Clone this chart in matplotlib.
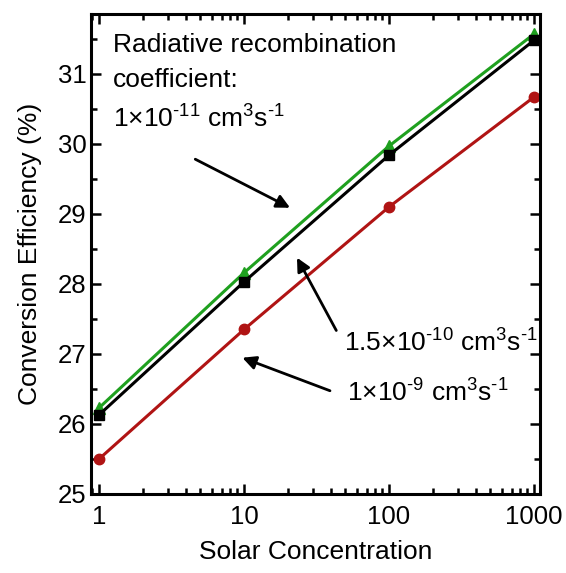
import numpy as np
import matplotlib
matplotlib.use("Agg")
import matplotlib.pyplot as plt
from matplotlib.ticker import LogLocator, MultipleLocator, NullFormatter

plt.rcParams['font.family'] = ['Liberation Sans', 'DejaVu Sans']
plt.rcParams['mathtext.fontset'] = 'custom'
plt.rcParams['mathtext.rm'] = 'Liberation Sans'
plt.rcParams['mathtext.it'] = 'Liberation Sans'

# data
concentration = [1, 10, 100, 1000]
eff_1e11 = [26.23, 28.16, 29.97, 31.57]
eff_15e10 = [26.13, 28.03, 29.84, 31.48]
eff_1e9 = [25.50, 27.35, 29.10, 30.67]

x_ticks = [1, 10, 100, 1000]
x_tick_labels = ['1', '10', '100', '1000']
y_ticks = [25, 26, 27, 28, 29, 30, 31]

green = '#1fa01f'
red = '#b01414'

fig = plt.figure(figsize=(5.66, 5.73), dpi=100)
ax = fig.add_axes([0.161, 0.138, 0.793, 0.838])

ax.plot(concentration, eff_1e11, color=green, lw=2.2, marker='^', ms=9)
ax.plot(concentration, eff_15e10, color='black', lw=2.2, marker='s', ms=6.5)
ax.plot(concentration, eff_1e9, color=red, lw=2.2, marker='o', ms=7.5)

ax.set_xscale('log')
ax.set_xlim(0.881, 1100)
ax.set_ylim(25, 31.86)
ax.set_xticks(x_ticks)
ax.set_xticklabels(x_tick_labels)
ax.xaxis.set_minor_locator(LogLocator(base=10, subs=np.arange(2, 10)))
ax.xaxis.set_minor_formatter(NullFormatter())
ax.set_yticks(y_ticks)
ax.yaxis.set_minor_locator(MultipleLocator(0.5))

ax.tick_params(which='both', direction='in', top=True, right=True, width=1.8,
               labelsize=18.5)
ax.tick_params(which='major', length=7)
ax.tick_params(which='minor', length=4)
ax.tick_params(axis='x', pad=8)
for sp in ax.spines.values():
    sp.set_linewidth(2.2)

ax.set_xlabel('Solar Concentration', fontsize=19, labelpad=8)
ax.set_ylabel('Conversion Efficiency (%)', fontsize=19, labelpad=11)

# annotations
ax.text(1.25, 31.41, 'Radiative recombination', fontsize=19, va='center')
ax.text(1.25, 30.91, 'coefficient:', fontsize=19, va='center')
ax.text(1.25, 30.36, r'1$\times$10$^{\text{-11}}$ cm$^{3}$s$^{\text{-1}}$', fontsize=19, va='center')
ax.text(49.3, 27.16, r'1.5$\times$10$^{\text{-10}}$ cm$^{3}$s$^{\text{-1}}$', fontsize=19, va='center')
ax.text(51.0, 26.44, r'1$\times$10$^{\text{-9}}$ cm$^{3}$s$^{\text{-1}}$', fontsize=19, va='center')

arrow = dict(arrowstyle='-|>', color='black', lw=2, mutation_scale=20)
ax.annotate('', xy=(21.6, 29.07), xytext=(4.43, 29.8), arrowprops=arrow)
ax.annotate('', xy=(22.7, 28.41), xytext=(44.2, 27.3), arrowprops=arrow)
ax.annotate('', xy=(9.34, 26.96), xytext=(40.8, 26.46), arrowprops=arrow)

fig.savefig('out.png', dpi=100)
